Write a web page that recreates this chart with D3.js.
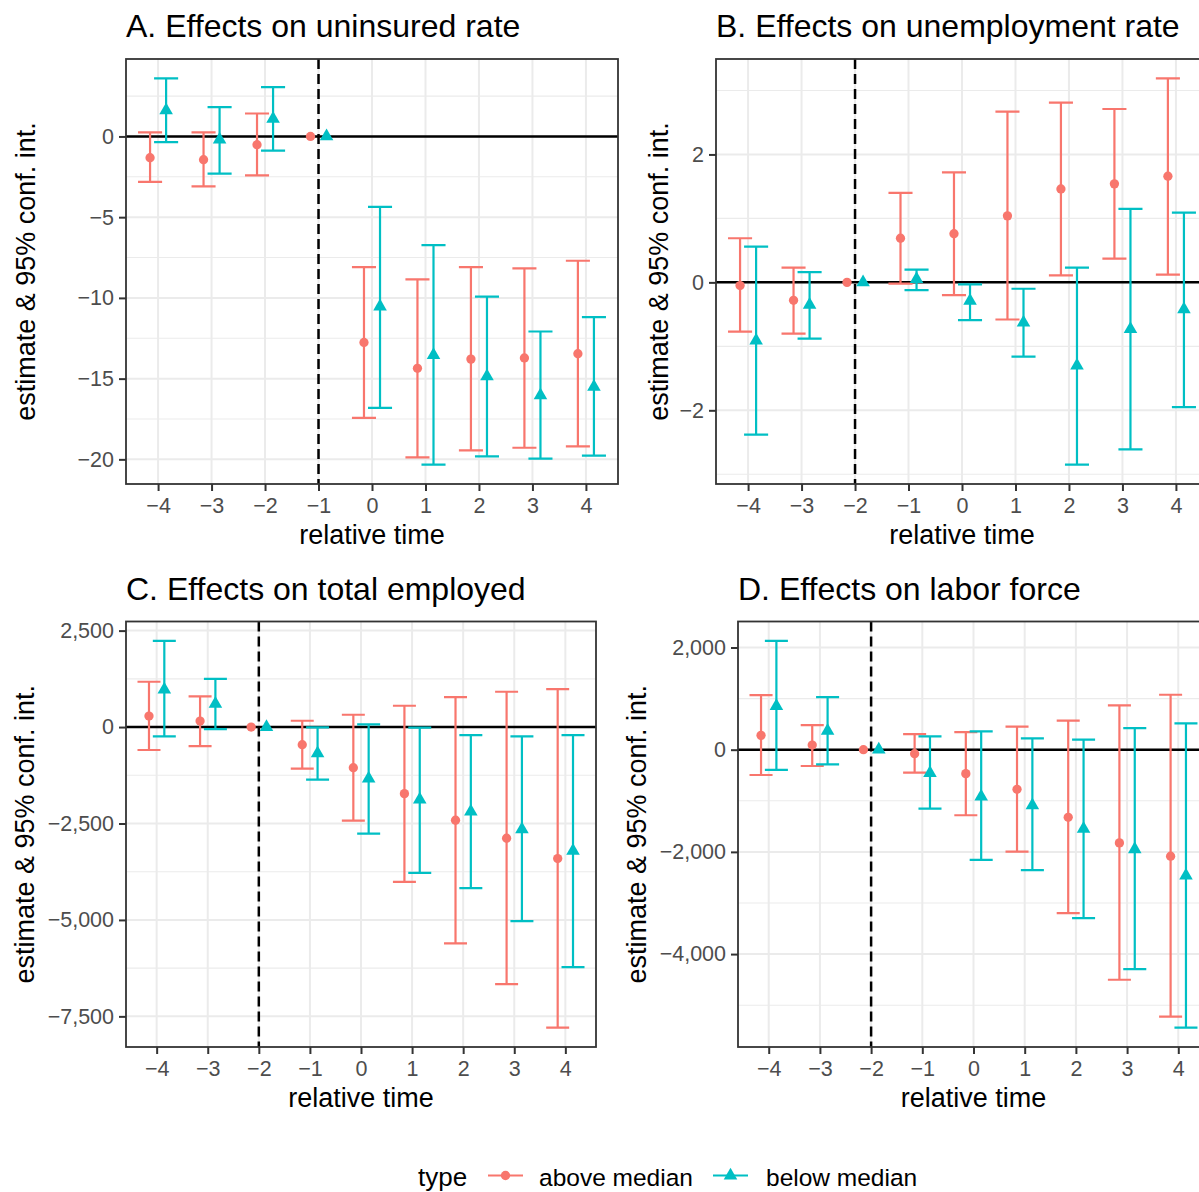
<!DOCTYPE html>
<html><head><meta charset="utf-8">
<script src="https://cdn.jsdelivr.net/npm/d3@7"></script>
<style>
body{margin:0;background:#fff;}
svg{display:block;font-family:"Liberation Sans",Arial,Helvetica,sans-serif;}
</style>
</head><body>
<svg id="chart" width="1199" height="1192"></svg>
<script>
// ---------- DATA ----------
const relTime = [-4, -3, -2, -1, 0, 1, 2, 3, 4];
const seriesNames = ["above median", "below median"];
const seriesColors = ["#F8766D", "#00BFC4"];
const panelTitles = ["A. Effects on uninsured rate", "B. Effects on unemployment rate",
                     "C. Effects on total employed", "D. Effects on labor force"];
const refPeriods = [-1, -2, -2, -2];
const xTitle = "relative time";
const yTitle = "estimate & 95% conf. int.";
const legendTitle = "type";

// A. uninsured rate
const uninsAboveEst = [-1.32, -1.44, -0.51, 0, -12.76, -14.36, -13.79, -13.72, -13.46];
const uninsAboveLo  = [-2.82, -3.09, -2.41, 0, -17.43, -19.88, -19.44, -19.28, -19.20];
const uninsAboveHi  = [0.25, 0.25, 1.42, 0, -8.09, -8.85, -8.09, -8.17, -7.70];
const uninsBelowEst = [1.62, -0.20, 1.09, 0, -10.53, -13.54, -14.86, -16.03, -15.51];
const uninsBelowLo  = [-0.35, -2.30, -0.88, 0, -16.81, -20.33, -19.81, -19.96, -19.77];
const uninsBelowHi  = [3.60, 1.81, 3.05, 0, -4.36, -6.73, -9.92, -12.08, -11.19];
const uninsYTicks   = [-20, -15, -10, -5, 0];

// B. unemployment rate
const unempAboveEst = [-0.05, -0.28, 0, 0.69, 0.76, 1.04, 1.46, 1.54, 1.66];
const unempAboveLo  = [-0.77, -0.80, 0, -0.02, -0.20, -0.58, 0.11, 0.37, 0.12];
const unempAboveHi  = [0.69, 0.23, 0, 1.40, 1.72, 2.67, 2.81, 2.71, 3.19];
const unempBelowEst = [-0.91, -0.35, 0, 0.05, -0.29, -0.63, -1.30, -0.73, -0.42];
const unempBelowLo  = [-2.38, -0.88, 0, -0.12, -0.59, -1.16, -2.85, -2.61, -1.95];
const unempBelowHi  = [0.56, 0.16, 0, 0.20, -0.03, -0.10, 0.23, 1.15, 1.09];
const unempYTicks   = [-2, 0, 2];

// C. total employed
const emplAboveEst = [285, 155, 0, -457, -1053, -1726, -2416, -2882, -3409];
const emplAboveLo  = [-595, -492, 0, -1079, -2425, -4013, -5610, -6662, -7793];
const emplAboveHi  = [1174, 794, 0, 164, 319, 552, 777, 915, 984];
const emplBelowEst = [970, 604, 0, -682, -1338, -1881, -2192, -2649, -3210];
const emplBelowLo  = [-242, -52, 0, -1364, -2762, -3780, -4177, -5031, -6222];
const emplBelowHi  = [2235, 1251, 0, -9, 69, -15, -207, -242, -207];
const emplYTicks   = [-7500, -5000, -2500, 0, 2500];

// D. labor force
const lfAboveEst = [280, 91, 0, -78, -469, -775, -1323, -1824, -2085];
const lfAboveLo  = [-495, -319, 0, -450, -1283, -1994, -3199, -4502, -5225];
const lfAboveHi  = [1068, 482, 0, 306, 345, 450, 567, 866, 1075];
const lfBelowEst = [853, 371, 0, -456, -919, -1088, -1551, -1948, -2463];
const lfBelowLo  = [-397, -287, 0, -1153, -2156, -2358, -3297, -4293, -5440];
const lfBelowHi  = [2130, 1029, 0, 261, 358, 222, 195, 423, 515];
const lfYTicks   = [-4000, -2000, 0, 2000];

// ---------- LAYOUT ----------
const panels = [
  {title: panelTitles[0], ref: refPeriods[0], ticks: uninsYTicks,
   series: [[uninsAboveEst, uninsAboveLo, uninsAboveHi], [uninsBelowEst, uninsBelowLo, uninsBelowHi]],
   box: {x: 126, y: 59, w: 492, h: 425}, titleY: 37, ylabX: 35},
  {title: panelTitles[1], ref: refPeriods[1], ticks: unempYTicks,
   series: [[unempAboveEst, unempAboveLo, unempAboveHi], [unempBelowEst, unempBelowLo, unempBelowHi]],
   box: {x: 716, y: 59, w: 492, h: 425}, titleY: 37, ylabX: 668},
  {title: panelTitles[2], ref: refPeriods[2], ticks: emplYTicks,
   series: [[emplAboveEst, emplAboveLo, emplAboveHi], [emplBelowEst, emplBelowLo, emplBelowHi]],
   box: {x: 126, y: 621.5, w: 470, h: 425.5}, titleY: 600, ylabX: 34},
  {title: panelTitles[3], ref: refPeriods[3], ticks: lfYTicks,
   series: [[lfAboveEst, lfAboveLo, lfAboveHi], [lfBelowEst, lfBelowLo, lfBelowHi]],
   box: {x: 738, y: 621.5, w: 471, h: 425.5}, titleY: 600, ylabX: 646}
];

const svg = d3.select("#chart");
svg.append("rect").attr("width", 1199).attr("height", 1192).attr("fill", "#fff");

const dodge = 0.15, capHalf = 0.225;
const gridCol = "#EBEBEB", borderCol = "#333333", tickTextCol = "#4D4D4D";
const circleSym = d3.symbol().type(d3.symbolCircle).size(68);
const triSym = d3.symbol().type(d3.symbolTriangle).size(80);

panels.forEach(p => {
  const b = p.box;
  const g = svg.append("g").attr("transform", `translate(${b.x},${b.y})`);
  const x = d3.scalePoint().domain(relTime).range([0, b.w]).padding(0.6);
  const step = x.step();
  const allVals = [0];
  p.series.forEach(s => { allVals.push(...s[1], ...s[2]); });
  const [mn, mx] = d3.extent(allVals);
  const pad = (mx - mn) * 0.05;
  const y = d3.scaleLinear().domain([mn - pad, mx + pad]).range([b.h, 0]);
  const [d0, d1] = y.domain();

  // minor grid
  const minor = [];
  const t = p.ticks, tStep = t[1] - t[0];
  const minorCand = [t[0] - tStep / 2, ...t.map(v => v + tStep / 2)];
  minorCand.forEach(v => { if (v > d0 && v < d1) minor.push(v); });
  g.selectAll(".minor").data(minor).join("line")
    .attr("x1", 0).attr("x2", b.w).attr("y1", d => y(d)).attr("y2", d => y(d))
    .attr("stroke", gridCol).attr("stroke-width", 1.1);
  g.selectAll(".majorh").data(p.ticks).join("line")
    .attr("x1", 0).attr("x2", b.w).attr("y1", d => y(d)).attr("y2", d => y(d))
    .attr("stroke", gridCol).attr("stroke-width", 2);
  g.selectAll(".majorv").data(relTime).join("line")
    .attr("y1", 0).attr("y2", b.h).attr("x1", d => x(d)).attr("x2", d => x(d))
    .attr("stroke", gridCol).attr("stroke-width", 2);

  // zero line & reference period line
  g.append("line").attr("x1", 0).attr("x2", b.w).attr("y1", y(0)).attr("y2", y(0))
    .attr("stroke", "#000").attr("stroke-width", 2.5);
  g.append("line").attr("x1", x(p.ref)).attr("x2", x(p.ref)).attr("y1", 0).attr("y2", b.h)
    .attr("stroke", "#000").attr("stroke-width", 2.5).attr("stroke-dasharray", "10,5");

  // error bars + points
  p.series.forEach((s, si) => {
    const off = (si === 0 ? -dodge : dodge) * step;
    const rows = relTime.map((tt, i) => ({t: tt, est: s[0][i], lo: s[1][i], hi: s[2][i]}));
    const col = seriesColors[si];
    const eb = g.append("g").attr("stroke", col).attr("stroke-width", 2.2).attr("fill", "none");
    rows.filter(r => r.lo !== r.hi).forEach(r => {
      const cx = x(r.t) + off;
      eb.append("path").attr("d",
        `M${cx - capHalf * step},${y(r.hi)}H${cx + capHalf * step}` +
        `M${cx},${y(r.hi)}V${y(r.lo)}` +
        `M${cx - capHalf * step},${y(r.lo)}H${cx + capHalf * step}`);
    });
    g.append("g").selectAll("path").data(rows).join("path")
      .attr("transform", r => `translate(${x(r.t) + off},${y(r.est)})`)
      .attr("d", si === 0 ? circleSym : triSym)
      .attr("fill", col);
  });

  // border
  g.append("rect").attr("width", b.w).attr("height", b.h)
    .attr("fill", "none").attr("stroke", borderCol).attr("stroke-width", 1.8);

  // axes
  const xa = g.append("g").attr("transform", `translate(0,${b.h})`)
    .call(d3.axisBottom(x).tickSize(7).tickPadding(7).tickSizeOuter(0).tickFormat(d3.format("d")));
  const ya = g.append("g")
    .call(d3.axisLeft(y).tickValues(p.ticks).tickSize(7).tickPadding(5).tickSizeOuter(0).tickFormat(d3.format(",")));
  [xa, ya].forEach(a => {
    a.select(".domain").remove();
    a.selectAll(".tick line").attr("stroke", borderCol).attr("stroke-width", 2);
    a.selectAll(".tick text").attr("fill", tickTextCol).attr("font-size", 21.5)
      .attr("font-family", "'Liberation Sans',Arial,sans-serif");
  });

  // titles
  svg.append("text").attr("x", b.x).attr("y", p.titleY).attr("font-size", 32).attr("fill", "#000")
    .text(p.title);
  svg.append("text").attr("x", b.x + b.w / 2).attr("y", b.y + b.h + 60)
    .attr("text-anchor", "middle").attr("font-size", 27).attr("fill", "#000").text(xTitle);
  svg.append("text").attr("transform", `translate(${p.ylabX},${b.y + b.h / 2}) rotate(-90)`)
    .attr("text-anchor", "middle").attr("font-size", 27).attr("fill", "#000").text(yTitle);
});

// legend
const lg = svg.append("g");
lg.append("text").attr("x", 418).attr("y", 1186).attr("font-size", 26).attr("fill", "#000").text(legendTitle);
const keyX = [488, 713], labX = [539, 766];
seriesNames.forEach((nm, i) => {
  lg.append("line").attr("x1", keyX[i]).attr("x2", keyX[i] + 35).attr("y1", 1175.5).attr("y2", 1175.5)
    .attr("stroke", seriesColors[i]).attr("stroke-width", 2.2);
  lg.append("path").attr("transform", `translate(${keyX[i] + 17.5},1175.5)`)
    .attr("d", i === 0 ? circleSym : triSym).attr("fill", seriesColors[i]);
  lg.append("text").attr("x", labX[i]).attr("y", 1186).attr("font-size", 24.5).attr("fill", "#000").text(nm);
});
</script>
</body></html>
